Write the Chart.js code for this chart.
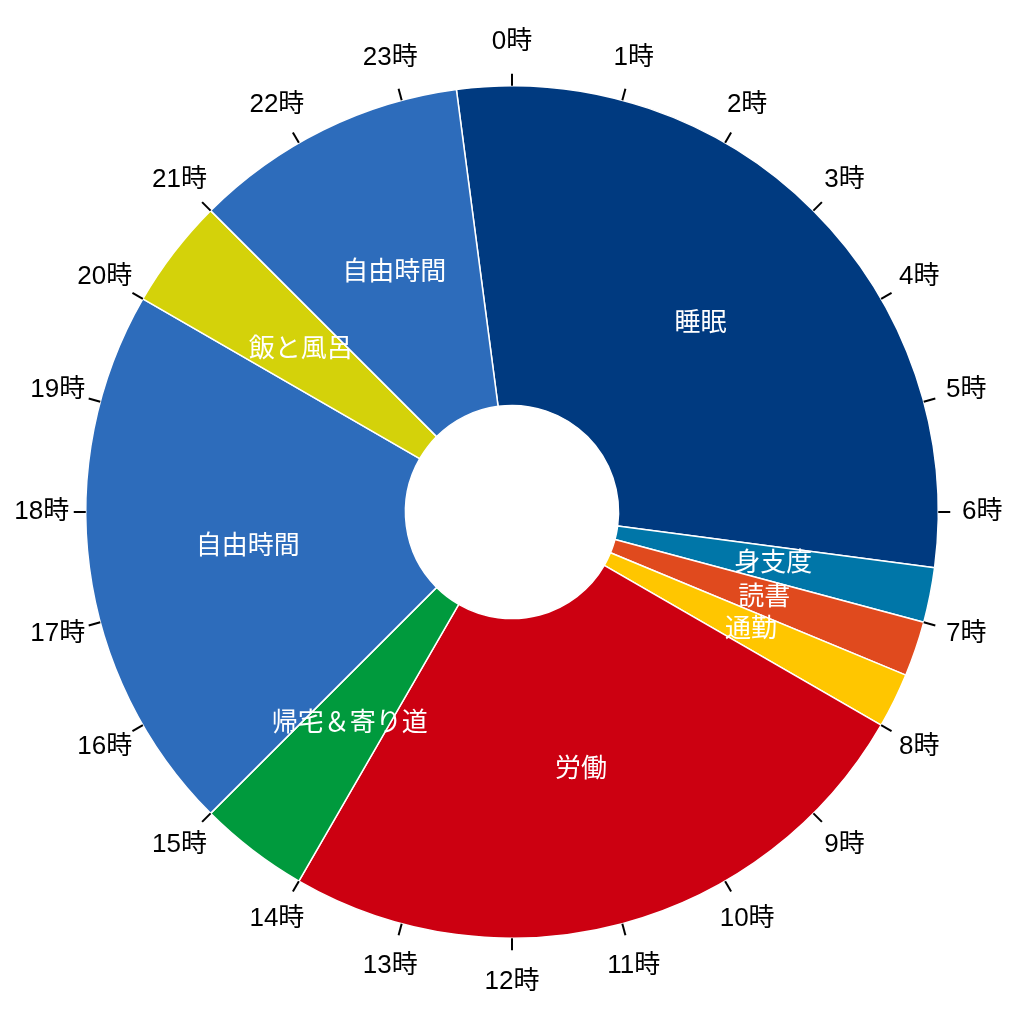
<!DOCTYPE html>
<html>
<head>
<meta charset="utf-8">
<script src="https://cdn.jsdelivr.net/npm/chart.js@4.4.1/dist/chart.umd.min.js"></script>
<style>
html,body{margin:0;padding:0;background:#fff;}
#wrap{width:1024px;height:1024px;position:relative;}
</style>
</head>
<body>
<div id="wrap"><canvas id="c"></canvas></div>
<script>
// Activities of the day (start at 23:30)
const categories = ['睡眠','身支度','読書','通勤','労働','帰宅＆寄り道','自由時間','飯と風呂','自由時間'];
const hours = [7, 0.5, 0.5, 0.5, 6, 1, 5, 1, 2.5];
const colors = ['#003A80','#0076A8','#E04A1E','#FFC600','#CC0011','#009A3D','#2D6CBB','#D4D20A','#2D6CBB'];
const startHour = 23.5;
const hourLabels = ['0時','1時','2時','3時','4時','5時','6時','7時','8時','9時','10時','11時',
                    '12時','13時','14時','15時','16時','17時','18時','19時','20时'.replace('时','時'),'21時','22時','23時'];

const FONT = "'Liberation Sans', 'Noto Sans CJK JP', sans-serif";

const clockPlugin = {
  id: 'clock',
  afterDraw(chart) {
    const meta = chart.getDatasetMeta(0);
    const arc0 = meta.data[0];
    const cx = arc0.x, cy = arc0.y;
    const R = arc0.outerRadius;
    const ctx = chart.ctx;
    ctx.save();
    // slice labels
    ctx.fillStyle = '#fff';
    ctx.font = '26px ' + FONT;
    ctx.textAlign = 'center';
    ctx.textBaseline = 'middle';
    meta.data.forEach((arc, i) => {
      const p = arc.tooltipPosition();
      ctx.fillText(categories[i], p.x, p.y);
    });
    // hour ticks and labels
    ctx.strokeStyle = '#000';
    ctx.lineWidth = 2;
    ctx.fillStyle = '#000';
    const n = hourLabels.length;
    hourLabels.forEach((lab, h) => {
      const a = -Math.PI / 2 + h * 2 * Math.PI / n;
      const c = Math.cos(a), s = Math.sin(a);
      ctx.beginPath();
      ctx.moveTo(cx + c * R, cy + s * R);
      ctx.lineTo(cx + c * (R + 12), cy + s * (R + 12));
      ctx.stroke();
      const lr = R + 44;
      ctx.fillText(lab, cx + c * lr, cy + s * lr);
    });
    ctx.restore();
  }
};

new Chart(document.getElementById('c'), {
  type: 'doughnut',
  data: {
    labels: categories,
    datasets: [{
      data: hours,
      backgroundColor: colors,
      borderColor: '#fff',
      borderWidth: 1.5
    }]
  },
  options: {
    responsive: true,
    maintainAspectRatio: false,
    animation: false,
    rotation: startHour / 24 * 360,
    cutout: '25%',
    layout: { padding: 85 },
    plugins: { legend: { display: false }, tooltip: { enabled: false } }
  },
  plugins: [clockPlugin]
});
</script>
</body>
</html>
